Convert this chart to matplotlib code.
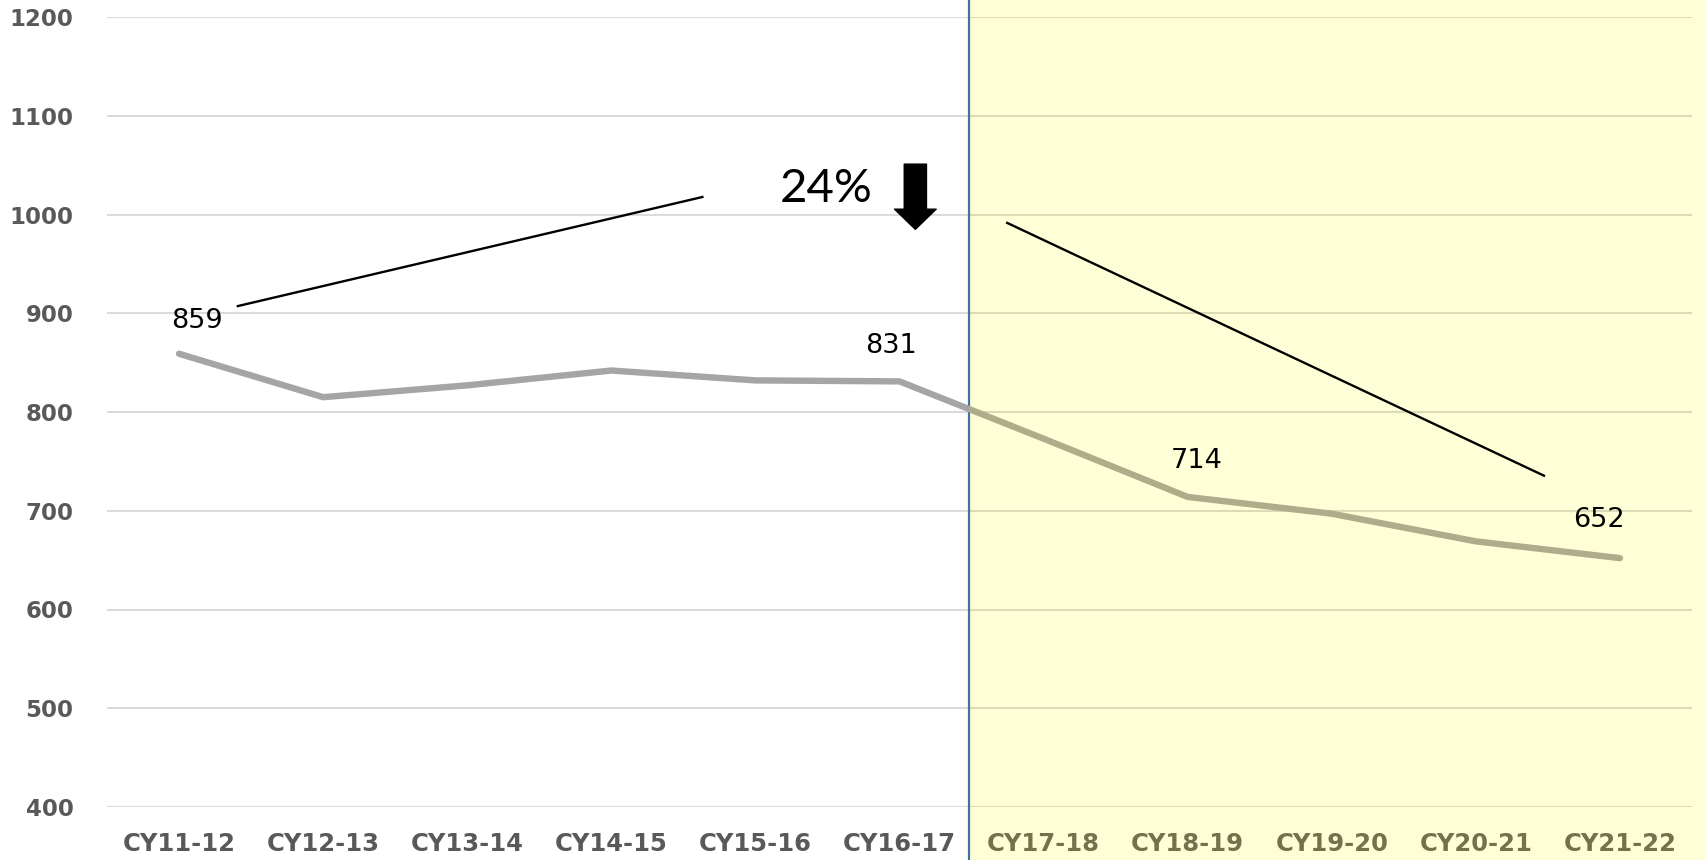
import matplotlib
matplotlib.use("Agg")
import matplotlib.pyplot as plt
from matplotlib.patches import Rectangle
from matplotlib.transforms import blended_transform_factory

# ---- data ----
categories = ["CY11-12", "CY12-13", "CY13-14", "CY14-15", "CY15-16", "CY16-17",
              "CY17-18", "CY18-19", "CY19-20", "CY20-21", "CY21-22"]
values = [859, 815, 827, 842, 832, 831, 773, 714, 697, 669, 652]
labelled_idx = [0, 5, 7, 10]
label_offsets_px = [(18, 33), (-8, 35), (9, 36), (-21, 38)]
yticks = [400, 500, 600, 700, 800, 900, 1000, 1100, 1200]
split_at = 5.48
pct_text = "24%"
trend_up = ([0.40, 3.64], [907, 1018])
trend_down = ([5.74, 9.48], [992, 735])

# ---- figure ----
DPI = 100
fig = plt.figure(figsize=(17.06, 8.60), dpi=DPI)
fig.patch.set_facecolor("white")
ax = fig.add_axes([107 / 1706, 1 - 807 / 860, (1692 - 107) / 1706, (807 - 17) / 860])
ax.patch.set_alpha(0)

x = list(range(len(categories)))
ax.set_xlim(-0.5, len(categories) - 0.5)
ax.set_ylim(400, 1200)

# shaded forecast region
bt = blended_transform_factory(ax.transData, fig.transFigure)
ax.add_patch(Rectangle((split_at, 0), 20, 1, transform=bt, facecolor="#ffffd7",
                       edgecolor="none", zorder=0, clip_on=False))
ax.plot([split_at, split_at], [0, 1], transform=bt, color="#41719c", lw=1.6,
        zorder=3, clip_on=False)

# grid
for t in yticks:
    ax.axhline(t, color="black", alpha=0.14, lw=1.5, zorder=1)

# main line, split colour
l1, = ax.plot(x, values, color="#a5a5a5", lw=4.6, zorder=4, solid_capstyle="round",
              solid_joinstyle="miter")
l2, = ax.plot(x, values, color="#adad8c", lw=4.6, zorder=4, solid_capstyle="round",
              solid_joinstyle="miter")
left_clip = Rectangle((-1, 0), split_at + 1, 5000, transform=ax.transData)
right_clip = Rectangle((split_at, 0), 20, 5000, transform=ax.transData)
l1.set_clip_path(left_clip)
l2.set_clip_path(right_clip)

# data labels
for i, (dx, dy) in zip(labelled_idx, label_offsets_px):
    ax.annotate(str(values[i]), (x[i], values[i]), xytext=(dx * 0.72, dy * 0.72),
                textcoords="offset points", ha="center", va="center",
                fontsize=19.5, family="DejaVu Sans", color="black", zorder=5)

# trend annotation lines
ax.plot(*trend_up, color="black", lw=1.7, zorder=5, solid_capstyle="butt")
ax.plot(*trend_down, color="black", lw=1.7, zorder=5, solid_capstyle="butt")

# 24% text and arrow
ax.text(4.49, 1026, pct_text, ha="center", va="center", fontsize=34,
        family="Lato", color="black", zorder=5)
ax.annotate("", xy=(5.11, 985), xytext=(5.11, 1051),
            arrowprops=dict(arrowstyle="simple,head_width=3.0,head_length=1.45,tail_width=1.6",
                            mutation_scale=10, color="black", shrinkA=0, shrinkB=0),
            zorder=5)

# axes styling
for s in ax.spines.values():
    s.set_visible(False)
ax.set_yticks(yticks)
ax.set_yticklabels([str(t) for t in yticks], fontsize=16.5, fontweight="bold",
                   color="#595959", family="DejaVu Sans")
ax.set_xticks(x)
ax.set_xticklabels(categories, fontsize=17.5, fontweight="bold", family="DejaVu Sans")
for xi, lab in zip(x, ax.get_xticklabels()):
    lab.set_color("#595959" if xi < split_at else "#72724c")
ax.tick_params(axis="y", length=0, pad=24)
ax.tick_params(axis="x", length=0, pad=18)

fig.savefig("out.png", dpi=DPI)
